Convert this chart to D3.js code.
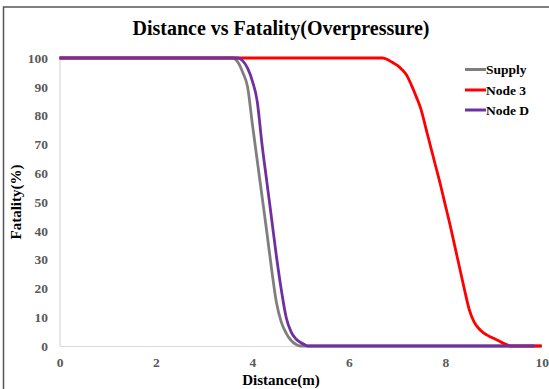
<!DOCTYPE html>
<html><head><meta charset="utf-8">
<script src="https://cdn.jsdelivr.net/npm/d3@7"></script>
<style>
html,body{margin:0;padding:0;background:#fff;}
svg{display:block;}
</style></head>
<body>
<svg id="chart" width="549" height="389"></svg>
<script>
const chartTitle = "Distance vs Fatality(Overpressure)";
const xTitle = "Distance(m)";
const yTitle = "Fatality(%)";
const seriesNames = ["Supply", "Node 3", "Node D"];
const seriesColors = ["#7f7f7f", "#ff0000", "#7030a0"];
const xTicks = [0, 2, 4, 6, 8, 10];
const yTicks = [0, 10, 20, 30, 40, 50, 60, 70, 80, 90, 100];

const supplyX = [0, 1, 2, 3, 3.6, 3.7, 3.8, 3.9, 4.0, 4.1, 4.2, 4.3, 4.4, 4.5, 4.6, 4.7, 4.8, 4.9, 5.0, 6, 7, 8, 9, 10];
const supplyY = [100, 100, 100, 100, 100, 98.5, 95, 90, 77, 64.5, 52, 39.5, 26.5, 15, 8.3, 4.5, 2, 0.6, 0, 0, 0, 0, 0, 0];

const node3X = [0, 1, 2, 3, 4, 5, 6, 6.7, 6.8, 6.9, 7.0, 7.1, 7.2, 7.3, 7.4, 7.5, 7.6, 7.7, 7.8, 7.9, 8.0, 8.1, 8.2, 8.3, 8.4, 8.5, 8.6, 8.7, 8.8, 8.9, 9.0, 9.1, 9.2, 9.3, 9.35, 10];
const node3Y = [100, 100, 100, 100, 100, 100, 100, 100, 99.5, 98.5, 97.5, 96, 94, 90.5, 86.5, 82, 75.5, 69, 62.5, 56, 49, 42, 34.5, 27, 19.5, 12.5, 8.3, 6, 4.5, 3.5, 2.7, 1.9, 1, 0.3, 0, 0];

const nodeDX = [0, 1, 2, 3, 3.7, 3.8, 3.9, 4.0, 4.1, 4.2, 4.3, 4.4, 4.5, 4.6, 4.7, 4.8, 4.9, 5.0, 5.1, 5.15, 6, 7, 8, 9, 9.85];
const nodeDY = [100, 100, 100, 100, 100, 99, 96.5, 92, 85, 70, 57, 44, 31, 19.5, 10, 5, 2.5, 1.2, 0.3, 0, 0, 0, 0, 0, 0];

const seriesX = [supplyX, node3X, nodeDX];
const seriesY = [supplyY, node3Y, nodeDY];

const svg = d3.select("#chart");
const serif = "'Liberation Serif','Times New Roman',serif";

// outer frame
svg.append("rect").attr("x", 3.5).attr("y", 7).attr("width", 560).attr("height", 400)
  .attr("fill", "#fff").attr("stroke", "#555").attr("stroke-width", 1.5);

const x = d3.scaleLinear().domain([0, 10]).range([59.5, 541.7]);
const y = d3.scaleLinear().domain([0, 100]).range([346, 58]);

// axes
const gx = svg.append("g").attr("transform", `translate(0,${y(0)})`)
  .call(d3.axisBottom(x).tickValues(xTicks).tickSize(0).tickPadding(11).tickFormat(d3.format("d")));
const gy = svg.append("g").attr("transform", `translate(${x(0)},0)`)
  .call(d3.axisLeft(y).tickValues(yTicks).tickSize(0).tickPadding(11.5).tickFormat(d3.format("d")));
[gx, gy].forEach(g => {
  g.select(".domain").attr("stroke", "#d9d9d9").attr("stroke-width", 1.2);
  g.selectAll("text").attr("font-family", serif).attr("font-weight", "bold")
    .attr("font-size", 13.5).attr("fill", "#595959");
});

// lines
const line = d3.line().x(d => x(d[0])).y(d => y(d[1])).curve(d3.curveMonotoneX);
seriesNames.forEach((name, i) => {
  const pts = seriesX[i].map((xv, j) => [xv, seriesY[i][j]]);
  svg.append("path").datum(pts).attr("d", line).attr("fill", "none")
    .attr("stroke", seriesColors[i]).attr("stroke-width", 2.8)
    .attr("stroke-linejoin", "round");
});

// title
svg.append("text").attr("x", 281).attr("y", 35).attr("text-anchor", "middle")
  .attr("font-family", serif).attr("font-weight", "bold").attr("font-size", 20)
  .attr("fill", "#000").text(chartTitle);
svg.append("text").attr("x", 281).attr("y", 384.5).attr("text-anchor", "middle")
  .attr("font-family", serif).attr("font-weight", "bold").attr("font-size", 15)
  .attr("fill", "#000").text(xTitle);
svg.append("text").attr("transform", "translate(20.5,202) rotate(-90)").attr("text-anchor", "middle")
  .attr("font-family", serif).attr("font-weight", "bold").attr("font-size", 15)
  .attr("fill", "#000").text(yTitle);

// legend
const legY = [69.5, 90, 110];
seriesNames.forEach((name, i) => {
  svg.append("line").attr("x1", 465).attr("x2", 486).attr("y1", legY[i]).attr("y2", legY[i])
    .attr("stroke", seriesColors[i]).attr("stroke-width", 3);
  svg.append("text").attr("x", 486).attr("y", legY[i]).attr("dy", "0.35em")
    .attr("font-family", serif).attr("font-weight", "bold").attr("font-size", 13.5)
    .attr("fill", "#000").text(name);
});
</script>
</body></html>
